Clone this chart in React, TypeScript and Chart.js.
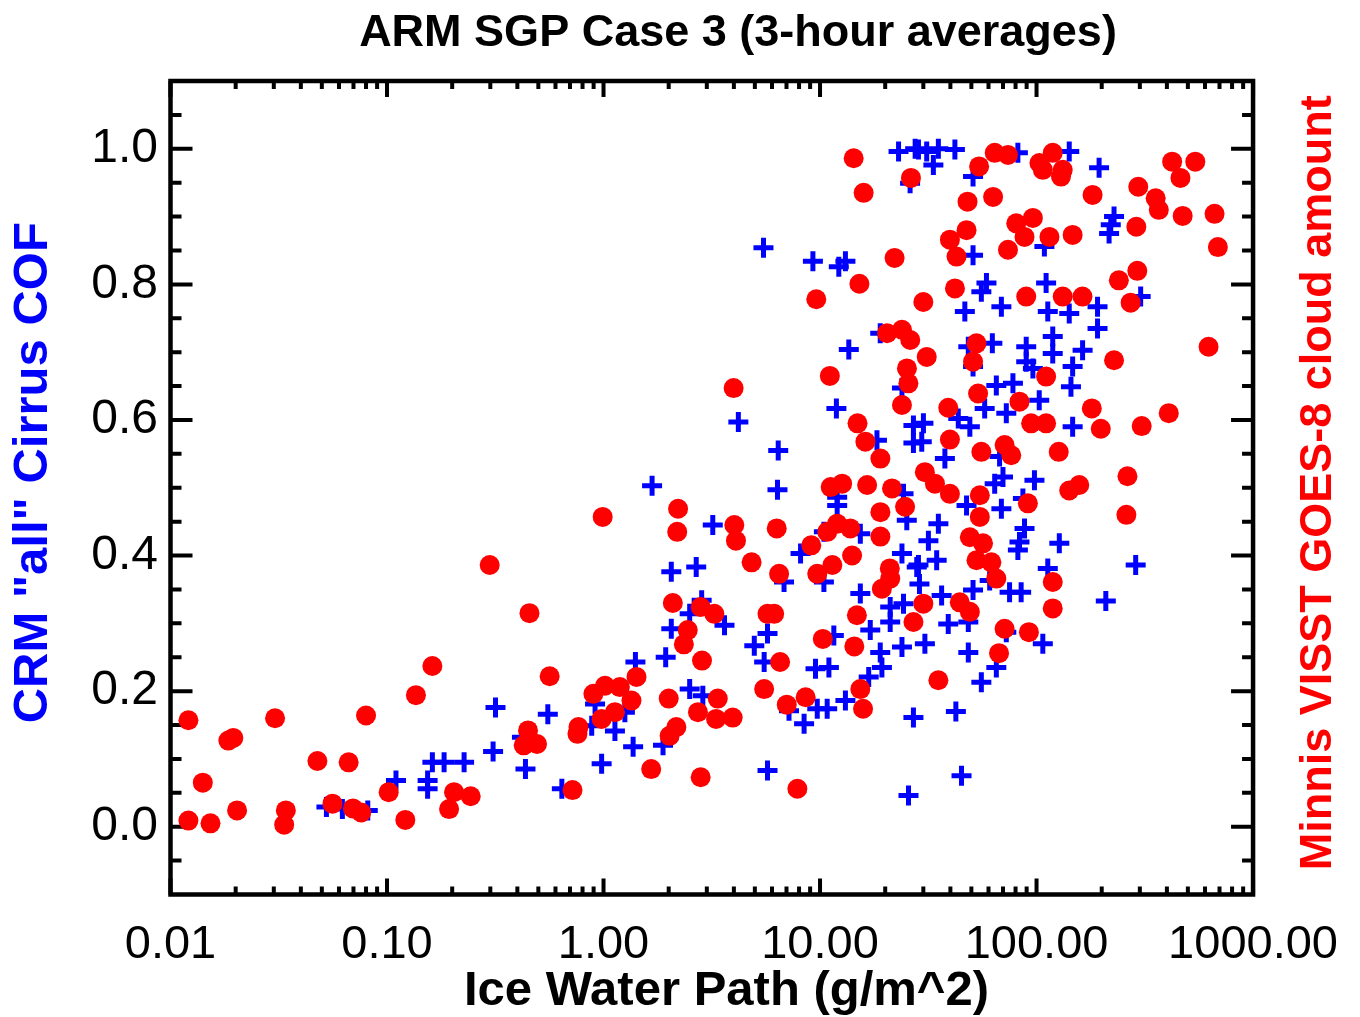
import React, { useEffect, useRef } from "react";
import { Chart, registerables } from "chart.js";

Chart.register(...registerables);

const chartTitle = "ARM SGP Case 3 (3-hour averages)";
const xAxisTitle = "Ice Water Path (g/m^2)";
const yLeftTitle = 'CRM "all" Cirrus COF';
const yRightTitle = "Minnis VISST GOES-8 cloud amount";

const xTickValues = [0.01, 0.1, 1, 10, 100, 1000];
const xTickLabels = ["0.01", "0.10", "1.00", "10.00", "100.00", "1000.00"];
const yTickValues = [0, 0.2, 0.4, 0.6, 0.8, 1.0];
const yTickLabels = ["0.0", "0.2", "0.4", "0.6", "0.8", "1.0"];

// CRM "all" cirrus COF (blue crosses)
const blueX = [
  0.317, 0.309, 0.110, 0.154, 0.154, 0.162, 0.1835, 0.227, 0.0525, 0.0622, 0.0815,
  1.676, 3.196, 2.056, 2.68, 2.84, 2.50, 3.62, 2.056, 1.404, 1.937, 0.553, 0.420, 0.436,
  0.642, 0.98, 1.129, 1.37, 1.883, 0.914, 1.255, 0.882, 2.50, 2.875,
  23.05, 27.5, 26.06, 5.48, 9.27, 12.21, 13.1, 13.58, 18.97, 11.9, 4.195, 6.41, 6.36,
  18.32, 23.9, 27.0, 27.0, 12.0, 12.0, 10.42, 8.13, 6.82, 10.42, 15.35, 15.35, 23.9,
  5.72, 4.97, 5.52, 11.58, 17.06, 21.09, 21.09, 18.97, 19.31, 24.3, 23.9, 9.53, 10.99,
  16.78, 13.1, 9.71, 10.79, 7.19, 8.44, 5.72, 25.62, 27.0, 27.97, 25.16,
  28.48, 31.09, 35.2, 33.38, 41.97, 50.9, 82.0, 141.6, 50.9, 108.7, 58.7, 55.6, 46.65,
  68.8, 110.7, 112.7, 141.6, 118.8, 118.8, 62.5, 48.4, 89.6, 89.6, 96.2, 146.8, 144.2,
  50.9, 65.2, 77.8, 57.6, 72.5, 102.9, 30.03, 29.5, 43.5, 49.2, 37.73, 67.5, 69.98,
  64.07, 97.8, 146.8, 24.3, 35.2, 47.5, 68.8, 86.5, 88.0, 83.4, 82.0, 127.4, 31.66,
  34.57, 28.48, 28.79, 60.75, 50.9, 36.44, 75.07, 84.9, 112.7, 39.1, 48.4, 30.5, 106.9,
  48.4, 72.5, 65.2, 55.6, 42.4, 45.03, 194.5, 228.0, 220.2, 216.3, 302.6, 191.3, 191.3,
  163.2, 287.0, 208.9,
];
const blueY = [
  0.176, 0.111, 0.068, 0.068, 0.056, 0.095, 0.095, 0.095, 0.029, 0.026, 0.024,
  0.503, 0.445, 0.376, 0.383, 0.334, 0.314, 0.297, 0.292, 0.243, 0.250, 0.166, 0.132, 0.085,
  0.056, 0.093, 0.141, 0.118, 0.120, 0.181, 0.169, 0.149, 0.203, 0.193,
  0.996, 1.0, 0.949, 0.854, 0.834, 0.826, 0.834, 0.704, 0.728, 0.617, 0.597, 0.555, 0.497,
  0.570, 0.647, 0.592, 0.566, 0.486, 0.474, 0.435, 0.403, 0.361, 0.361, 0.344, 0.432, 0.403,
  0.285, 0.267, 0.243, 0.282, 0.290, 0.324, 0.302, 0.257, 0.235, 0.329, 0.265, 0.233, 0.235,
  0.221, 0.186, 0.174, 0.174, 0.171, 0.152, 0.083, 0.046, 0.161, 0.383, 0.452,
  0.999, 0.996, 1.0, 0.976, 0.999, 0.959, 0.994, 0.996, 0.843, 0.856, 0.802, 0.789, 0.760,
  0.767, 0.802, 0.760, 0.757, 0.723, 0.698, 0.713, 0.708, 0.708, 0.686, 0.676, 0.679, 0.649,
  0.679, 0.651, 0.654, 0.617, 0.610, 0.629, 0.595, 0.568, 0.602, 0.590, 0.543, 0.546, 0.516,
  0.506, 0.511, 0.590, 0.491, 0.447, 0.474, 0.469, 0.484, 0.440, 0.420, 0.408, 0.418, 0.422,
  0.393, 0.386, 0.358, 0.363, 0.349, 0.341, 0.346, 0.346, 0.381, 0.299, 0.302, 0.270, 0.270,
  0.257, 0.287, 0.235, 0.213, 0.170, 0.075, 0.972, 0.900, 0.888, 0.875, 0.782, 0.767, 0.735,
  0.703, 0.386, 0.333,
];

// Minnis VISST GOES-8 cloud amount (red dots)
const redX = [
  0.0121, 0.162, 0.136, 0.0304, 0.080, 0.0185, 0.0195, 0.0141, 0.0477, 0.0665, 0.0121,
  0.0153, 0.0203, 0.0341, 0.0335, 0.056, 0.0696, 0.076, 0.1018, 0.1215, 0.1935, 0.204, 0.2435,
  2.21, 2.19, 0.991, 0.298, 0.455, 4.02, 4.09, 2.09, 2.81, 3.25, 2.45, 2.35, 2.85, 1.42,
  0.564, 0.898, 1.016, 1.19, 1.346, 0.98, 1.129, 0.766, 0.758, 0.448, 0.428, 0.493, 2.0,
  2.17, 2.02, 2.73, 3.37, 3.31, 3.95, 1.66, 2.81, 0.719,
  14.3, 15.9, 26.3, 22.1, 15.2, 9.61, 30.0, 3.99, 11.1, 20.4, 23.9, 26.1, 25.2, 25.6, 23.9,
  14.9, 16.2, 19.0, 11.2, 12.65, 16.5, 21.5, 19.0, 24.7, 6.31, 10.8, 12.0, 13.8, 19.0, 9.11,
  14.06, 4.83, 6.47, 9.71, 11.4, 21.0, 21.1, 19.3, 5.72, 6.14, 14.8, 27.0, 10.3, 14.4, 6.54,
  5.52, 7.02, 8.58, 15.35, 15.8, 7.86,
  54.3, 64.1, 73.8, 106.9, 118.8, 132.1, 103.1, 48.0, 63.0, 80.6, 96.2, 88.0, 114.7, 146.8,
  47.5, 39.8, 42.7, 73.8, 42.0, 89.6, 132.1, 31.1, 52.8, 50.9, 110.7, 53.7, 83.4, 39.1, 39.8,
  94.4, 110.7, 55.6, 71.2, 76.4, 126.6, 30.5, 33.95, 39.8, 54.7, 141.6, 54.7, 91.2, 49.2,
  56.6, 52.8, 61.85, 65.2, 118.8, 118.8, 30.0, 44.2, 49.2, 71.2, 92.2, 67.1, 35.2,
  129.7, 181.5, 423, 541, 462, 295, 355, 367, 473, 664, 688, 289, 292, 240, 163, 272, 623,
  228, 180, 198, 306, 408, 263, 157.5, 260,
];
const redY = [
  0.157, 0.237, 0.194, 0.160, 0.164, 0.127, 0.131, 0.065, 0.097, 0.095, 0.009,
  0.005, 0.024, 0.024, 0.003, 0.034, 0.027, 0.021, 0.051, 0.010, 0.026, 0.051, 0.045,
  0.469, 0.435, 0.457, 0.386, 0.315, 0.445, 0.422, 0.330, 0.324, 0.314, 0.290, 0.269, 0.245, 0.221,
  0.222, 0.196, 0.208, 0.206, 0.186, 0.159, 0.169, 0.147, 0.137, 0.142, 0.120, 0.122, 0.189,
  0.147, 0.134, 0.169, 0.189, 0.159, 0.161, 0.085, 0.073, 0.054,
  0.986, 0.935, 0.957, 0.839, 0.801, 0.778, 0.774, 0.647, 0.665, 0.728, 0.733, 0.718, 0.676, 0.654, 0.622,
  0.595, 0.568, 0.543, 0.501, 0.506, 0.504, 0.499, 0.464, 0.472, 0.440, 0.435, 0.447, 0.440, 0.428, 0.415,
  0.400, 0.390, 0.373, 0.373, 0.386, 0.381, 0.366, 0.351, 0.314, 0.314, 0.312, 0.302, 0.277, 0.266, 0.243,
  0.203, 0.180, 0.191, 0.203, 0.174, 0.056,
  0.974, 0.994, 0.991, 0.969, 0.994, 0.969, 0.979, 0.922, 0.929, 0.890, 0.898, 0.870, 0.870, 0.873,
  0.880, 0.866, 0.841, 0.851, 0.794, 0.782, 0.782, 0.693, 0.713, 0.686, 0.664, 0.639, 0.627, 0.618, 0.571,
  0.595, 0.595, 0.553, 0.563, 0.548, 0.553, 0.523, 0.506, 0.491, 0.489, 0.496, 0.457, 0.477, 0.427,
  0.418, 0.393, 0.390, 0.366, 0.361, 0.322, 0.329, 0.331, 0.317, 0.292, 0.287, 0.256, 0.216,
  0.959, 0.932, 0.981, 0.981, 0.957, 0.944, 0.927, 0.910, 0.901, 0.904, 0.855, 0.885, 0.820, 0.806, 0.782, 0.773, 0.708,
  0.688, 0.617, 0.587, 0.591, 0.610, 0.517, 0.504, 0.460,
];

const FONT = "'Liberation Sans', Arial, Helvetica, sans-serif";

const framePlugin = {
  id: "frameTicks",
  beforeDatasetsDraw(chart: any) {
    const { ctx, chartArea: a, scales } = chart;
    const xs = scales.x;
    const ys = scales.y;
    ctx.save();
    ctx.strokeStyle = "#000";
    ctx.lineCap = "butt";
    ctx.lineWidth = 4;
    ctx.beginPath();
    // x ticks (inward, bottom and top), major at decades, minor at 2..9
    for (let d = 0; d < xTickValues.length; d++) {
      const base = xTickValues[d];
      const maxK = d === xTickValues.length - 1 ? 1 : 9;
      for (let k = 1; k <= maxK; k++) {
        const px = xs.getPixelForValue(base * k);
        const len = k === 1 ? 16 : 8;
        ctx.moveTo(px, a.bottom);
        ctx.lineTo(px, a.bottom - len);
        ctx.moveTo(px, a.top);
        ctx.lineTo(px, a.top + len);
      }
    }
    // y ticks every 0.05, major every 0.2 (left and right)
    for (let i = -1; i <= 21; i++) {
      const v = i * 0.05;
      const py = ys.getPixelForValue(v);
      const major = i >= 0 && i <= 20 && i % 4 === 0;
      const len = major ? 22 : 11;
      ctx.moveTo(a.left, py);
      ctx.lineTo(a.left + len, py);
      ctx.moveTo(a.right, py);
      ctx.lineTo(a.right - len, py);
    }
    ctx.stroke();
    ctx.lineWidth = 4.5;
    ctx.strokeRect(a.left, a.top, a.right - a.left, a.bottom - a.top);
    ctx.restore();
  },
  afterDraw(chart: any) {
    const { ctx, chartArea: a } = chart;
    ctx.save();
    ctx.textAlign = "center";
    ctx.textBaseline = "middle";

    // main title
    ctx.fillStyle = "#000";
    ctx.font = `bold 45px ${FONT}`;
    ctx.fillText(chartTitle, 738, 33.5);

    // x-axis title
    ctx.font = `bold 49px ${FONT}`;
    ctx.fillText(xAxisTitle, 726.5, a.bottom + 97);

    // left y-axis title (blue)
    ctx.save();
    ctx.fillStyle = "#0000ff";
    ctx.font = `bold 49px ${FONT}`;
    ctx.translate(33, (a.top + a.bottom) / 2 - 15);
    ctx.rotate(-Math.PI / 2);
    ctx.fillText(yLeftTitle, 0, 0);
    ctx.restore();

    // right y-axis title (red)
    ctx.save();
    ctx.fillStyle = "#ff0000";
    ctx.font = `bold 45px ${FONT}`;
    ctx.translate(a.right + 66, (a.top + a.bottom) / 2 - 5);
    ctx.rotate(-Math.PI / 2);
    ctx.fillText(yRightTitle, 0, 0);
    ctx.restore();

    ctx.restore();
  },
};

export default function App() {
  const canvasRef = useRef<HTMLCanvasElement | null>(null);

  useEffect(() => {
    const canvas = canvasRef.current;
    if (!canvas) return;
    const blueData = blueX.map((x, i) => ({ x, y: blueY[i] }));
    const redData = redX.map((x, i) => ({ x, y: redY[i] }));

    const chart = new Chart(canvas, {
      type: "scatter",
      data: {
        datasets: [
          {
            label: "Minnis VISST GOES-8 cloud amount",
            data: redData,
            pointStyle: "circle",
            pointRadius: 10,
            pointBackgroundColor: "#ff0000",
            pointBorderColor: "#ff0000",
            pointBorderWidth: 0,
            order: 0,
          },
          {
            label: 'CRM "all" Cirrus COF',
            data: blueData,
            pointStyle: "cross",
            pointRadius: 10,
            pointBorderColor: "#0000ff",
            pointBorderWidth: 5,
            order: 1,
          },
        ],
      },
      plugins: [framePlugin],
      options: {
        responsive: false,
        animation: false,
        events: [],
        layout: { padding: { top: 81, left: 0, right: 0, bottom: 0 } },
        plugins: {
          legend: { display: false },
          tooltip: { enabled: false },
          title: { display: false },
        },
        scales: {
          x: {
            type: "logarithmic",
            position: "bottom",
            min: 0.01,
            max: 1000,
            grid: { display: false, drawTicks: false },
            border: { display: false },
            afterBuildTicks: (s: any) => {
              s.ticks = xTickValues.map((v) => ({ value: v, major: true }));
            },
            afterFit: (s: any) => {
              s.height = 122.5;
            },
            ticks: {
              autoSkip: false,
              maxRotation: 0,
              minRotation: 0,
              padding: 22,
              color: "#000",
              font: { family: FONT, size: 47 },
              callback: (_v: any, i: number) => xTickLabels[i],
            },
          },
          y: {
            type: "linear",
            position: "left",
            min: -0.1,
            max: 1.1,
            grid: { display: false, drawTicks: false },
            border: { display: false },
            afterBuildTicks: (s: any) => {
              s.ticks = yTickValues.map((v) => ({ value: v }));
            },
            afterFit: (s: any) => {
              s.width = 170.5;
            },
            ticks: {
              padding: 12.5,
              color: "#000",
              font: { family: FONT, size: 48 },
              callback: (_v: any, i: number) => yTickLabels[i],
            },
          },
          y2: {
            type: "linear",
            position: "right",
            display: true,
            min: -0.1,
            max: 1.1,
            grid: { display: false, drawTicks: false },
            border: { display: false },
            ticks: { display: false },
            afterFit: (s: any) => {
              s.width = 102.5;
            },
          },
        },
      },
    } as any);

    return () => {
      chart.destroy();
    };
  }, []);

  return (
    <div style={{ position: "fixed", left: 0, top: 0, width: 1360, height: 1017, background: "#fff" }}>
      <canvas ref={canvasRef} width={1360} height={1017} style={{ width: 1360, height: 1017, display: "block" }} />
    </div>
  );
}
